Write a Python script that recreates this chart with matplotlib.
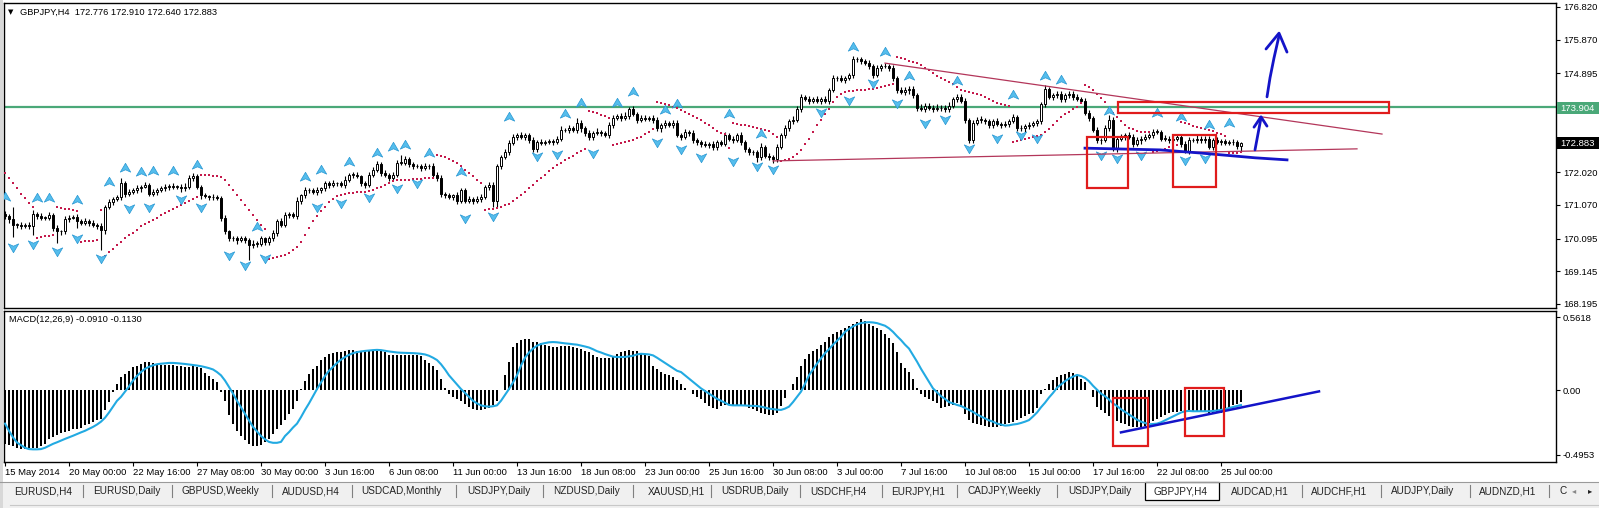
import numpy as np
import matplotlib.pyplot as plt
from matplotlib.path import Path
from matplotlib.patches import Rectangle

W, H = 1599, 508
plt.rcParams['font.family'] = ['Liberation Sans', 'DejaVu Sans']

# ---- price data (GBPJPY H4, 15 May 08:00 .. 25 Jul 20:00) ----
closes = [
    170.75, 170.65, 170.50, 170.50, 170.45, 170.50, 170.45, 170.80, 170.75, 170.70,
    170.70, 170.78, 170.40, 170.30, 170.30, 170.65, 170.70, 170.72, 170.60, 170.55,
    170.60, 170.55, 170.50, 170.45, 170.35, 171.00, 171.15, 171.25, 171.30, 171.70,
    171.40, 171.45, 171.50, 171.55, 171.60, 171.65, 171.40, 171.45, 171.50, 171.55,
    171.60, 171.62, 171.60, 171.60, 171.55, 171.60, 171.85, 171.90, 171.60, 171.35,
    171.32, 171.30, 171.30, 171.28, 170.70, 170.30, 170.10, 170.10, 170.05, 170.10,
    170.05, 169.90, 169.95, 169.95, 170.10, 170.00, 170.10, 170.25, 170.60, 170.50,
    170.78, 170.80, 170.75, 171.20, 171.35, 171.50, 171.50, 171.45, 171.50, 171.55,
    171.70, 171.65, 171.70, 171.70, 171.65, 171.80, 171.95, 171.95, 171.90, 171.70,
    171.65, 171.95, 172.10, 172.25, 172.00, 171.95, 171.85, 171.95, 172.30, 172.30,
    172.40, 172.25, 172.20, 172.20, 172.15, 172.20, 172.20, 171.95, 171.85, 171.40,
    171.35, 171.30, 171.35, 171.20, 171.50, 171.20, 171.25, 171.20, 171.25, 171.30,
    171.60, 171.65, 171.20, 172.20, 172.47, 172.60, 172.87, 173.05, 173.10, 173.05,
    173.10, 172.95, 172.70, 172.90, 172.88, 172.90, 172.92, 172.90, 173.00, 173.25,
    173.25, 173.30, 173.25, 173.45, 173.30, 173.15, 173.05, 173.15, 173.20, 173.15,
    173.10, 173.40, 173.60, 173.65, 173.60, 173.65, 173.85, 173.70, 173.55, 173.60,
    173.58, 173.60, 173.55, 173.30, 173.40, 173.45, 173.40, 173.45, 173.10, 173.05,
    173.20, 173.15, 172.95, 172.90, 172.85, 172.80, 172.85, 172.75, 172.90, 172.85,
    173.10, 173.00, 172.95, 173.10, 172.90, 172.70, 172.60, 172.60, 172.45, 172.75,
    172.50, 172.45, 172.40, 172.75, 173.10, 173.30, 173.50, 173.55, 173.85, 174.20,
    174.15, 174.10, 174.15, 174.10, 174.15, 174.10, 174.40, 174.75, 174.75, 174.70,
    174.75, 174.85, 175.30, 175.30, 175.25, 175.20, 175.10, 174.85, 175.05, 175.10,
    175.10, 175.05, 174.75, 174.40, 174.35, 174.40, 174.45, 174.25, 173.90, 173.85,
    173.95, 173.90, 173.85, 173.90, 173.88, 173.85, 173.95, 174.15, 174.20, 174.10,
    173.55, 172.95, 173.45, 173.55, 173.55, 173.50, 173.40, 173.50, 173.42, 173.40,
    173.42, 173.50, 173.62, 173.30, 173.30, 173.35, 173.40, 173.45, 173.50, 174.00,
    174.45, 174.20, 174.25, 174.30, 174.15, 174.25, 174.30, 174.20, 174.15, 174.10,
    173.75, 173.60, 173.25, 172.95, 172.95, 173.30, 173.55, 172.70, 173.00, 173.05,
    173.10, 173.05, 172.85, 172.95, 173.00, 173.05, 173.10, 173.20, 173.20, 173.00,
    173.00, 172.95, 173.00, 173.05, 172.85, 172.65, 172.95, 172.95, 173.00, 172.95,
    173.00, 172.75, 172.95, 172.90, 172.92, 172.88, 172.90, 172.90, 172.78, 172.883,
]
first_open = 170.80

# wick lengths above / below the body, in hundredths of a yen
wick_up = [
    10, 6, 35, 5, 9, 6, 7, 12, 6, 8,   5, 9, 6, 8, 5, 10, 7, 6, 9, 5,
    8, 6, 7, 5, 9, 6, 8, 5, 7, 15,     6, 8, 7, 9, 5, 10, 6, 8, 5, 7,
    9, 6, 8, 5, 7, 10, 8, 9, 6, 5,     7, 5, 8, 6, 6, 9, 5, 7, 6, 8,
    6, 5, 9, 6, 8, 5, 7, 9, 6, 10,     8, 6, 7, 9, 5, 8, 6, 7, 9, 5,
    8, 6, 9, 5, 7, 10, 6, 8, 7, 5,     6, 8, 7, 10, 6, 9, 5, 8, 7, 22,
    9, 6, 8, 7, 5, 9, 6, 8, 7, 10,     6, 8, 5, 9, 7, 6, 8, 5, 7, 9,
    6, 8, 10, 7, 6, 9, 8, 7, 6, 9,     7, 5, 8, 6, 9, 5, 7, 8, 6, 10,
    7, 9, 6, 14, 8, 6, 9, 7, 10, 6,    8, 7, 9, 6, 8, 12, 7, 9, 6, 8,
    7, 5, 9, 8, 6, 10, 7, 8, 9, 6,     8, 6, 9, 7, 6, 8, 5, 9, 7, 6,
    10, 7, 8, 6, 9, 7, 6, 8, 7, 12,    6, 8, 7, 9, 6, 8, 7, 9, 10, 8,
    7, 9, 6, 8, 7, 9, 8, 10, 7, 9,     8, 6, 10, 7, 8, 6, 9, 7, 8, 6,
    9, 7, 8, 6, 9, 10, 7, 8, 6, 9,     7, 8, 6, 9, 7, 8, 10, 7, 8, 9,
    8, 6, 9, 7, 10, 6, 8, 7, 9, 6,     8, 7, 9, 6, 8, 7, 9, 6, 8, 7,
    10, 6, 8, 7, 9, 6, 8, 7, 9, 6,     8, 7, 6, 9, 7, 10, 12, 8, 7, 9,
    6, 8, 7, 9, 6, 8, 7, 9, 8, 6,      9, 7, 8, 6, 9, 7, 8, 6, 9, 7,
    8, 7, 6, 9, 7, 8, 6, 9, 7, 3,
]
wick_dn = [
    8, 10, 36, 9, 7, 5, 8, 25, 9, 7,   8, 6, 9, 34, 10, 6, 8, 5, 20, 7,
    6, 8, 7, 9, 60, 12, 6, 8, 7, 9,    10, 7, 6, 8, 9, 5, 8, 7, 9, 6,
    7, 9, 6, 8, 10, 7, 6, 9, 8, 10,    6, 8, 9, 7, 10, 8, 9, 7, 10, 6,
    8, 43, 7, 9, 6, 10, 8, 7, 9, 6,    7, 9, 6, 8, 10, 7, 9, 6, 8, 7,
    6, 9, 7, 8, 6, 10, 7, 9, 6, 8,     9, 7, 6, 8, 10, 7, 9, 6, 8, 7,
    6, 9, 8, 7, 10, 6, 8, 9, 7, 10,    8, 6, 9, 10, 7, 8, 6, 9, 7, 8,
    7, 9, 20, 20, 8, 6, 9, 7, 8, 6,    9, 7, 8, 10, 6, 8, 7, 9, 6, 8,
    7, 9, 6, 8, 10, 7, 9, 8, 6, 9,     7, 8, 9, 6, 10, 7, 8, 6, 9, 7,
    8, 6, 9, 7, 10, 8, 6, 9, 7, 8,     6, 9, 7, 8, 10, 6, 8, 9, 7, 6,
    8, 7, 9, 6, 8, 10, 7, 9, 12, 6,    8, 7, 10, 9, 6, 8, 7, 9, 6, 8,
    7, 9, 6, 8, 10, 7, 9, 6, 8, 7,     9, 6, 8, 7, 9, 6, 8, 10, 7, 9,
    6, 8, 7, 9, 6, 8, 10, 7, 9, 6,     8, 7, 9, 6, 8, 7, 9, 6, 8, 7,
    9, 7, 8, 6, 9, 7, 8, 10, 6, 9,     7, 8, 6, 9, 7, 10, 8, 6, 9, 7,
    8, 6, 9, 7, 8, 10, 6, 9, 7, 8,     6, 9, 7, 8, 10, 6, 8, 5, 9, 7,
    8, 6, 9, 7, 10, 8, 6, 9, 7, 8,     7, 9, 6, 8, 10, 7, 9, 6, 8, 7,
    9, 6, 8, 7, 9, 6, 8, 10, 7, 14,
]

# Parabolic SAR dots
sar = [
    172.00, 171.85, 171.70, 171.55, 171.40, 171.27, 171.13, 171.00, 170.12, 170.14,
    170.16, 170.18, 170.20, 171.00, 170.98, 170.96, 170.94, 170.92, 170.90, 170.00,
    170.01, 170.02, 170.03, 170.05, 170.92, 169.60, 169.70, 169.80, 169.90, 170.00,
    170.10, 170.20, 170.27, 170.35, 170.45, 170.52, 170.58, 170.63, 170.70, 170.78,
    170.83, 170.90, 170.95, 171.00, 171.07, 171.12, 171.18, 171.24, 171.30, 171.95,
    171.94, 171.93, 171.92, 171.91, 171.88, 171.80, 171.66, 171.50, 171.36, 171.22,
    171.08, 170.93, 170.78, 170.64, 170.50, 170.36, 169.50, 169.52, 169.55, 169.58,
    169.62, 169.68, 169.75, 169.85, 170.00, 170.20, 170.40, 170.60, 170.75, 170.90,
    171.02, 171.15, 171.25, 171.33, 171.37, 171.39, 171.41, 171.43, 171.44, 171.45,
    171.46, 171.48, 171.50, 171.55, 171.60, 171.66, 171.72, 171.77, 171.80, 171.80,
    171.80, 171.80, 171.81, 171.82, 171.83, 171.84, 171.85, 171.86, 172.52, 172.50,
    172.46, 172.41, 172.35, 172.28, 172.20, 172.10, 172.00, 171.90, 171.80, 171.70,
    170.92, 170.94, 170.96, 170.98, 171.02, 171.06, 171.10, 171.18, 171.27, 171.36,
    171.46, 171.56, 171.66, 171.76, 171.86, 171.95, 172.05, 172.14, 172.22, 172.30,
    172.37, 172.43, 172.50, 172.57, 172.64, 172.70, 173.80, 173.77, 173.73, 173.69,
    173.65, 173.60, 172.80, 172.83, 172.86, 172.89, 172.93, 172.97, 173.01, 173.05,
    173.12, 173.20, 173.28, 174.05, 174.02, 173.99, 173.96, 173.93, 173.88, 173.83,
    173.77, 173.71, 173.65, 173.60, 173.54, 173.46, 173.38, 173.30, 173.23, 173.16,
    173.12, 172.72, 173.46, 173.43, 173.40, 173.38, 173.35, 173.33, 173.31, 173.29,
    173.26, 173.21, 173.14, 173.05, 172.35, 172.37, 172.40, 172.45, 172.55, 172.67,
    172.83, 173.00, 173.20, 173.38, 173.54, 173.70, 173.87, 174.05, 174.20, 174.30,
    174.36, 174.38, 174.38, 174.40, 174.41, 174.42, 174.43, 174.44, 174.46, 174.49,
    174.52, 174.55, 174.57, 175.38, 175.34, 175.30, 175.26, 175.22, 175.18, 175.13,
    175.06, 174.98, 174.90, 174.82, 174.75, 174.70, 174.64, 174.58, 174.50, 174.42,
    174.38, 174.35, 174.32, 174.29, 174.26, 174.20, 174.15, 174.08, 174.04, 174.00,
    173.97, 173.94, 172.90, 172.92, 172.95, 172.99, 173.02, 173.04, 173.07, 173.10,
    173.18, 173.28, 173.40, 173.52, 173.63, 173.70, 173.77, 173.85, 173.93, 174.02,
    174.55, 174.50, 174.42, 174.30, 174.18, 174.05, 173.90, 173.75, 173.62, 173.50,
    173.40, 173.32, 173.27, 173.23, 173.20, 173.19, 173.18, 172.62, 172.64, 172.66,
    172.70, 172.74, 172.78, 172.82, 173.47, 173.44, 173.41, 173.37, 173.34, 173.31,
    173.28, 173.25, 173.21, 173.17, 173.13, 173.08, 172.58, 172.58, 172.59, 172.60,
]

# fractals: bar index and marker price
frac_up_bar = [0, 8, 11, 18, 26, 30, 34, 37, 42, 48, 63, 75, 79, 86, 93, 97, 100, 106, 114,
               126, 140, 144, 153, 157, 165, 168, 181, 189, 212, 220, 226, 238, 252, 260,
               264, 276, 288, 294, 301, 306]
frac_up_price = [171.30, 171.27, 171.27, 171.21, 171.74, 172.14, 172.03, 172.06, 172.06, 172.23,
                 170.43, 171.88, 172.09, 172.32, 172.58, 172.75, 172.81, 172.58, 172.03,
                 173.63, 173.71, 174.03, 174.03, 174.35, 173.83, 174.00, 173.71, 173.13,
                 175.66, 175.51, 174.82, 174.67, 174.26, 174.82, 174.70, 173.80, 173.74,
                 173.63, 173.39, 173.45]
frac_dn_bar = [2, 7, 13, 18, 24, 31, 36, 44, 49, 56, 60, 65, 78, 84, 91, 98, 103, 115, 122,
               133, 138, 147, 163, 169, 174, 182, 188, 192, 204, 211, 217, 223, 230, 235,
               241, 248, 254, 258, 274, 278, 284, 295, 300]
frac_dn_price = [169.85, 169.94, 169.73, 170.11, 169.53, 170.98, 171.01, 171.24, 171.01, 169.62,
                 169.33, 169.53, 171.01, 171.13, 171.30, 171.56, 171.71, 170.69, 170.75,
                 172.49, 172.55, 172.58, 172.90, 172.70, 172.46, 172.35, 172.20, 172.11,
                 173.77, 174.12, 174.61, 174.03, 173.45, 173.57, 172.72, 173.02, 173.10,
                 173.02, 172.52, 172.43, 172.52, 172.38, 172.43]

# MACD(12,26,9), thousandths
macd_hist = [
    -410, -420, -430, -445, -450, -450, -445, -440, -440, -430,
    -410, -370, -355, -340, -330, -320, -310, -300, -295, -290,
    -265, -255, -245, -230, -220, -150, -90, -10, 50, 100,
    125, 145, 175, 190, 205, 220, 215, 210, 200, 195,
    195, 192, 195, 190, 185, 180, 182, 185, 175, 170,
    135, 110, 85, 65, -10, -80, -190, -260, -310, -350,
    -380, -410, -430, -430, -420, -395, -370, -335, -300, -265,
    -225, -180, -140, -80, 10, 75, 125, 160, 190, 230,
    255, 280, 288, 290, 295, 305, 310, 310, 305, 300,
    300, 298, 302, 300, 298, 290, 272, 270, 272, 270,
    268, 272, 270, 268, 260, 235, 210, 185, 155, 85,
    20, -25, -50, -70, -85, -105, -125, -140, -150, -150,
    -145, -135, -115, -80, 0, 120, 220, 330, 360, 385,
    390, 392, 372, 368, 362, 348, 340, 332, 335, 338,
    340, 337, 332, 322, 315, 305, 295, 270, 255, 245,
    248, 250, 262, 275, 290, 300, 310, 305, 300, 275,
    270, 265, 190, 160, 140, 125, 120, 100, 80, 50,
    15, 0, -30, -50, -70, -95, -120, -132, -140, -120,
    -115, -115, -118, -118, -120, -120, -135, -145, -158, -170,
    -180, -188, -190, -175, -120, -60, 0, 45, 100, 190,
    240, 280, 300, 320, 350, 370, 410, 430, 450, 465,
    475, 490, 505, 520, 550, 530, 505, 490, 480, 465,
    430, 400, 360, 290, 210, 170, 140, 90, 20, -30,
    -50, -70, -85, -100, -135, -130, -120, -110, -100, -125,
    -180, -230, -250, -260, -268, -275, -280, -282, -280, -270,
    -260, -250, -240, -230, -215, -200, -185, -170, -135, -25,
    10, 45, 80, 105, 115, 128, 138, 135, 118, 90,
    64, 0, -50, -125, -150, -170, -195, -210, -238, -250,
    -260, -272, -278, -280, -278, -275, -250, -235, -222, -205,
    -190, -175, -168, -165, -155, -150, -155, -160, -160, -160,
    -165, -175, -180, -175, -170, -145, -135, -115, -105, -91,
]
macd_signal = [
    -255, -310, -360, -400, -420, -440, -450, -452, -452, -450,
    -440, -425, -410, -398, -385, -372, -360, -348, -335, -322,
    -310, -295, -280, -262, -240, -210, -170, -125, -80, -50,
    -10, 30, 75, 110, 140, 165, 180, 192, 200, 204,
    207, 210, 210, 208, 205, 202, 198, 194, 190, 185,
    178, 170, 160, 140, 115, 75, 26, -25, -80, -130,
    -180, -230, -280, -315, -350, -375, -395, -402, -402, -395,
    -350, -320, -285, -255, -205, -150, -100, -45, 10, 60,
    110, 150, 180, 210, 235, 255, 272, 285, 293, 298,
    302, 305, 308, 310, 308, 303, 298, 294, 290, 288,
    287, 286, 285, 283, 280, 275, 265, 250, 232, 200,
    160, 115, 80, 45, 10, -20, -50, -80, -100, -115,
    -122, -125, -122, -115, -80, -35, 10, 60, 115, 190,
    250, 290, 320, 342, 355, 362, 368, 370, 368, 364,
    360, 357, 353, 350, 343, 336, 328, 315, 300, 290,
    278, 268, 258, 255, 255, 256, 260, 265, 275, 280,
    278, 275, 268, 250, 230, 210, 190, 170, 150, 140,
    115, 90, 64, 40, 15, -5, -25, -45, -65, -80,
    -95, -112, -115, -115, -115, -116, -118, -119, -120, -125,
    -132, -140, -144, -148, -150, -140, -125, -90, -50, -10,
    50, 115, 160, 205, 245, 285, 315, 350, 380, 410,
    448, 470, 490, 505, 515, 520, 522, 520, 515, 505,
    495, 475, 448, 415, 385, 350, 320, 270, 220, 165,
    115, 65, 15, -15, -45, -65, -90, -100, -112, -120,
    -135, -150, -165, -185, -200, -215, -230, -240, -255, -262,
    -270, -268, -262, -258, -250, -240, -228, -200, -170, -130,
    -95, -55, -20, 20, 45, 70, 90, 105, 118, 110,
    95, 70, 35, 5, -25, -45, -70, -100, -120, -145,
    -165, -185, -205, -225, -240, -250, -260, -258, -255, -245,
    -230, -215, -200, -185, -170, -160, -158, -160, -160, -160,
    -160, -160, -158, -155, -150, -145, -135, -128, -120, -113,
]

time_labels = ["15 May 2014", "20 May 00:00", "22 May 16:00", "27 May 08:00", "30 May 00:00",
               "3 Jun 16:00", "6 Jun 08:00", "11 Jun 00:00", "13 Jun 16:00", "18 Jun 08:00",
               "23 Jun 00:00", "25 Jun 16:00", "30 Jun 08:00", "3 Jul 00:00", "7 Jul 16:00",
               "10 Jul 08:00", "15 Jul 00:00", "17 Jul 16:00", "22 Jul 08:00", "25 Jul 00:00"]
price_ticks = [176.820, 175.870, 174.895, 173.920, 172.945, 172.020, 171.070, 170.095, 169.145, 168.195]
level_line = 173.904
last_price = 172.883

# hand-drawn objects (bar index, price)
trend_hi_x, trend_hi_y = [220, 344.25], [175.19, 173.13]
trend_lo_x, trend_lo_y = [192, 338], [172.35, 172.70]
blue_x = [270, 288.75, 298.75, 312.5, 320.5]
blue_y = [172.72, 172.67, 172.58, 172.44, 172.38]
boxes_price = [(270.5, 171.56, 10.25, 1.48), (292, 171.59, 10.75, 1.51), (278.25, 173.74, 67.75, 0.32)]
arrow_small_x, arrow_small_y = [312.5, 314], [172.67, 173.60]
head_small_x, head_small_y = [312.25, 314, 315.5], [173.33, 173.63, 173.36]
arrow_big_x = [315.5, 316.25, 317.25, 318.5]
arrow_big_y = [174.21, 174.76, 175.34, 175.98]
head_big_x, head_big_y = [315.25, 318.5, 320.5], [175.60, 176.06, 175.51]
macd_line_x, macd_line_y = [279, 328.5], [-0.322, -0.008]
boxes_macd = [(277, -0.429, 8.75, 0.368), (295, -0.352, 9.75, 0.367)]

tabs = ["EURUSD,H4", "EURUSD,Daily", "GBPUSD,Weekly", "AUDUSD,H4", "USDCAD,Monthly",
        "USDJPY,Daily", "NZDUSD,Daily", "XAUUSD,H1", "USDRUB,Daily", "USDCHF,H4",
        "EURJPY,H1", "CADJPY,Weekly", "USDJPY,Daily", "GBPJPY,H4", "AUDCAD,H1",
        "AUDCHF,H1", "AUDJPY,Daily", "AUDNZD,H1"]
tab_x = [14, 93, 182, 282, 361, 467, 553, 648, 721, 810, 891, 967, 1068, 1154, 1231, 1311, 1391, 1479]
tab_sep = [83, 172, 272, 352, 456, 543, 633, 711, 800, 882, 957, 1057, 1302, 1381, 1470, 1549]

# ---- derived candle values ----
n = len(closes)
bars = np.arange(n)
c = np.array(closes)
o = np.array([first_open] + closes[:-1])
hi = np.maximum(o, c) + np.array(wick_up) / 100
lo = np.minimum(o, c) - np.array(wick_dn) / 100


def rect(x0, y0, x1, y1):
    return [x0 / W, 1 - y1 / H, (x1 - x0) / W, (y1 - y0) / H]


fig = plt.figure(figsize=(W / 100, H / 100), dpi=100)
fig.patch.set_facecolor('white')
fig.add_artist(Rectangle((0, 0), 1, 26 / H, transform=fig.transFigure, fc='#f0f0f0', ec='none'))
fig.add_artist(Rectangle((0, 0), 3 / W, 1, transform=fig.transFigure, fc='#d8d8d8', ec='none'))

ax = fig.add_axes(rect(4, 3, 1556, 308))
ax2 = fig.add_axes(rect(4, 311, 1556, 462))
for a in (ax, ax2):
    a.set_xlim(-0.25, 387.75)
    for s in a.spines.values():
        s.set_linewidth(1.0)
        s.set_color('black')
    a.yaxis.tick_right()
    a.tick_params(axis='y', direction='out', length=3, width=0.8, pad=2, labelsize=6.8)

ax.set_ylim(168.078, 176.936)
ax.set_xticks([])
ax.set_yticks(price_ticks)
ax.set_yticklabels([f"{v:.3f}" for v in price_ticks])

# candles
ax.vlines(bars, lo, hi, color='black', lw=0.8, zorder=2)
body_h = np.maximum(np.abs(c - o), 0.008)
ax.bar(bars, body_h, bottom=np.minimum(o, c), width=0.62,
       color=np.where(c >= o, 'white', 'black'), edgecolor='black', linewidth=0.7, zorder=3)

ax.axhline(level_line, color='#4aa878', lw=1.6, zorder=1)
ax.plot(bars, sar, ls='none', marker='s', ms=2.0, mew=0, color='#c41a4c', zorder=4)

up_path = Path([(0, 1), (1, -0.7), (0, -0.25), (-1, -0.7), (0, 1)],
               [Path.MOVETO, Path.LINETO, Path.LINETO, Path.LINETO, Path.CLOSEPOLY])
dn_path = Path([(0, -1), (1, 0.7), (0, 0.25), (-1, 0.7), (0, -1)],
               [Path.MOVETO, Path.LINETO, Path.LINETO, Path.LINETO, Path.CLOSEPOLY])
ax.plot(frac_up_bar, frac_up_price, ls='none', marker=up_path, ms=7.5,
        color='#55bdec', mec='#2596d2', mew=0.5, zorder=4)
ax.plot(frac_dn_bar, frac_dn_price, ls='none', marker=dn_path, ms=7.5,
        color='#55bdec', mec='#2596d2', mew=0.5, zorder=4)

ax.plot(trend_hi_x, trend_hi_y, color='#b3365a', lw=0.9, zorder=5)
ax.plot(trend_lo_x, trend_lo_y, color='#b3365a', lw=0.9, zorder=5)
ax.plot(blue_x, blue_y, color='#1414c8', lw=2.0, zorder=6)
for x0, y0, w, h in boxes_price:
    ax.add_patch(Rectangle((x0, y0), w, h, fill=False, ec='#e01c1c', lw=1.6, zorder=6))
for xs, ys in [(arrow_small_x, arrow_small_y), (head_small_x, head_small_y),
               (arrow_big_x, arrow_big_y), (head_big_x, head_big_y)]:
    ax.plot(xs, ys, color='#1414c8', lw=2.0, solid_capstyle='round', zorder=6)

# MACD panel
ax2.set_ylim(-0.549, 0.6078)
ax2.bar(bars, np.array(macd_hist) / 1000, width=0.5, color='black', zorder=2)
ax2.plot(bars, np.array(macd_signal) / 1000, color='#22aae2', lw=1.5, zorder=3)
ax2.plot(macd_line_x, macd_line_y, color='#1414c8', lw=1.8, zorder=4)
for x0, y0, w, h in boxes_macd:
    ax2.add_patch(Rectangle((x0, y0), w, h, fill=False, ec='#e01c1c', lw=1.6, zorder=5))
ax2.set_yticks([0.5618, 0.0, -0.4953])
ax2.set_yticklabels(['0.5618', '0.00', '-0.4953'])
ax2.set_xticks([16 * i for i in range(len(time_labels))])
ax2.set_xticklabels(time_labels, ha='left')
ax2.tick_params(axis='x', direction='out', length=3, width=0.8, pad=1.5, labelsize=6.8)

# texts
fig.text(8 / W, 1 - 12 / H, '\u25bc', fontsize=5, va='center', family=['DejaVu Sans'])
fig.text(20 / W, 1 - 12 / H, 'GBPJPY,H4  172.776 172.910 172.640 172.883', fontsize=6.7, va='center')
fig.text(9 / W, 1 - 319 / H, 'MACD(12,26,9) -0.0910 -0.1130', fontsize=6.7, va='center')

for yv, txt, fc in [(108, f"{level_line:.3f}", '#4aa878'), (143, f"{last_price:.3f}", 'black')]:
    fig.add_artist(Rectangle((1557 / W, 1 - (yv + 6) / H), 42 / W, 12 / H,
                             transform=fig.transFigure, fc=fc, ec='none', zorder=10))
    fig.text(1560 / W, 1 - yv / H, txt, color='white', fontsize=6.8, va='center', zorder=11)

# tab bar
fig.add_artist(plt.Line2D([0, 1], [1 - 482 / H] * 2, color='#9a9a9a', lw=0.8))
fig.add_artist(Rectangle((1145 / W, 1 - 500 / H), 74 / W, 18 / H, transform=fig.transFigure,
                         fc='white', ec='black', lw=0.9))
for x, t in zip(tab_x, tabs):
    fig.text(x / W, 1 - 491 / H, t, fontsize=7.2, va='center', color='#222222')
fig.text(1559 / W, 1 - 491 / H, 'C', fontsize=7.2, va='center', color='#222222')
fig.text(1572 / W, 1 - 491 / H, '\u25c2', fontsize=6, va='center', color='#888888', family=['DejaVu Sans'])
fig.text(1588 / W, 1 - 491 / H, '\u25b8', fontsize=6, va='center', color='#222222', family=['DejaVu Sans'])
for x in tab_sep:
    fig.add_artist(plt.Line2D([x / W] * 2, [1 - 485 / H, 1 - 497 / H], color='#808080', lw=0.8))
fig.add_artist(plt.Line2D([10 / W, 1], [1 - 505 / H] * 2, color='#c8c8c8', lw=0.8))

fig.savefig('out.png', dpi=100)
